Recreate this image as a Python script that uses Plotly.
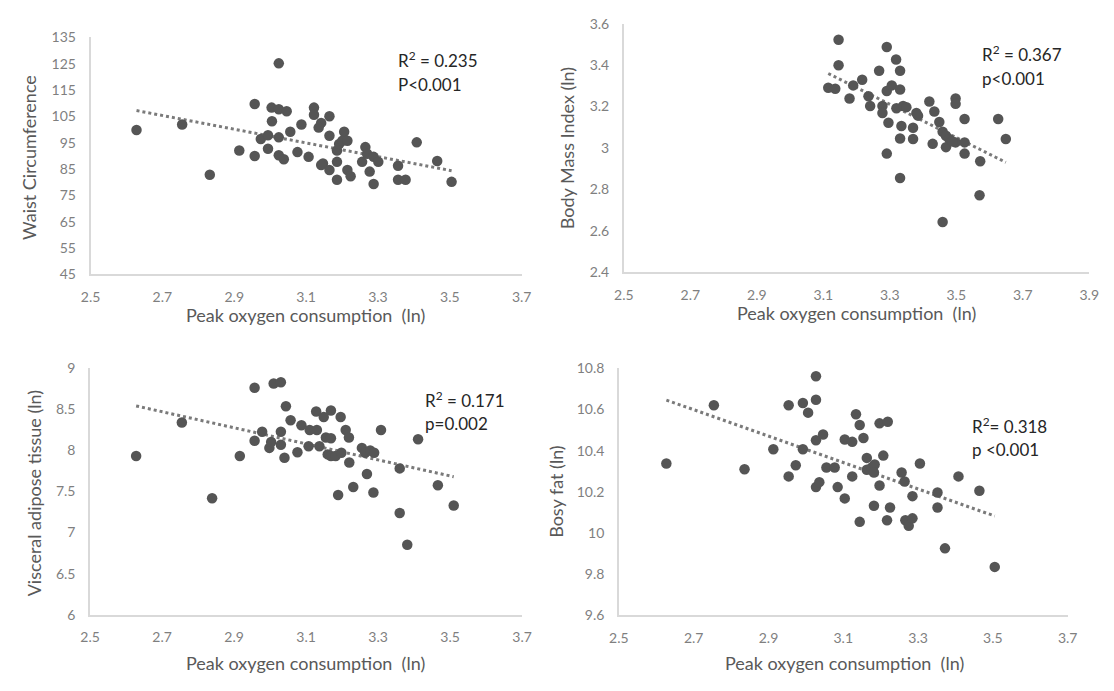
import numpy as np
import plotly.graph_objects as go

W, H = 1114, 691

# ---------------- data ----------------
wc_x = [2.628, 2.755, 2.832, 2.914, 2.957, 2.957, 2.974, 2.994, 2.994, 3.005, 3.004, 3.024, 3.024,
        3.024, 3.024, 3.038, 3.046, 3.056, 3.076, 3.087, 3.107, 3.122, 3.122, 3.142, 3.135, 3.165,
        3.165, 3.147, 3.142, 3.165, 3.186, 3.186, 3.186, 3.192, 3.206, 3.201, 3.215, 3.215, 3.224,
        3.256, 3.265, 3.270, 3.277, 3.288, 3.301, 3.288, 3.356, 3.356, 3.377, 3.408, 3.465, 3.505]
wc_y = [99.8, 101.9, 82.8, 92.0, 109.7, 89.9, 96.4, 97.8, 92.7, 103.1, 108.3, 125.1, 107.7,
        97.0, 90.2, 88.7, 106.9, 99.1, 91.4, 101.9, 89.6, 108.3, 105.6, 102.5, 100.7, 105.0,
        97.6, 87.1, 86.5, 84.6, 80.9, 87.7, 92.0, 94.5, 99.1, 95.7, 95.7, 84.6, 82.2,
        87.7, 93.3, 90.8, 84.0, 89.6, 87.7, 79.3, 86.2, 80.9, 80.9, 95.1, 88.0, 80.1]

bmi_x = [3.115, 3.136, 3.146, 3.146, 3.179, 3.190, 3.217, 3.236, 3.241, 3.268, 3.278, 3.278, 3.291,
         3.291, 3.296, 3.291, 3.306, 3.319, 3.331, 3.331, 3.320, 3.340, 3.350, 3.335, 3.331, 3.331,
         3.370, 3.370, 3.380, 3.385, 3.419, 3.434, 3.449, 3.429, 3.459, 3.469, 3.479, 3.469, 3.459,
         3.498, 3.498, 3.498, 3.525, 3.525, 3.525, 3.572, 3.570, 3.626, 3.649, 3.488]
bmi_y = [3.291, 3.286, 3.522, 3.399, 3.239, 3.302, 3.329, 3.250, 3.203, 3.373, 3.203, 3.169, 3.487,
         3.275, 3.122, 2.973, 3.302, 3.427, 3.373, 3.282, 3.192, 3.203, 3.197, 3.106, 3.046, 2.855,
         3.098, 3.043, 3.169, 3.156, 3.224, 3.176, 3.125, 3.020, 3.078, 3.059, 3.043, 3.004, 2.643,
         3.239, 3.213, 3.027, 3.140, 3.027, 2.973, 2.936, 2.772, 3.140, 3.043, 3.031]

vat_x = [2.628, 2.755, 2.839, 2.916, 2.957, 2.957, 2.978, 2.998, 3.003, 3.010, 3.030, 3.030, 3.030,
         3.040, 3.044, 3.057, 3.076, 3.087, 3.107, 3.110, 3.128, 3.130, 3.137, 3.149, 3.155, 3.160,
         3.169, 3.169, 3.169, 3.182, 3.189, 3.196, 3.198, 3.210, 3.219, 3.220, 3.231, 3.255, 3.264,
         3.269, 3.278, 3.289, 3.287, 3.308, 3.360, 3.360, 3.381, 3.411, 3.466, 3.510]
vat_y = [7.929, 8.336, 7.415, 7.929, 8.759, 8.115, 8.225, 8.028, 8.099, 8.810, 8.826, 8.225, 8.067,
         7.909, 8.534, 8.364, 7.976, 8.304, 8.047, 8.245, 8.470, 8.245, 8.047, 8.403, 8.154, 7.949,
         8.482, 8.146, 7.929, 7.929, 7.455, 8.403, 7.968, 8.245, 8.154, 7.850, 7.553, 8.028, 7.968,
         7.711, 7.996, 7.968, 7.486, 8.245, 7.779, 7.237, 6.850, 8.134, 7.573, 7.328]

bf_x = [2.627, 2.754, 2.836, 2.913, 2.954, 2.954, 2.973, 2.992, 2.992, 3.006, 3.027, 3.027, 3.027,
        3.027, 3.036, 3.046, 3.055, 3.077, 3.085, 3.104, 3.104, 3.124, 3.124, 3.134, 3.144, 3.144,
        3.154, 3.163, 3.163, 3.176, 3.184, 3.182, 3.182, 3.197, 3.197, 3.207, 3.219, 3.217, 3.225,
        3.256, 3.264, 3.266, 3.275, 3.285, 3.285, 3.305, 3.352, 3.352, 3.372, 3.408, 3.464, 3.505]
bf_y = [10.338, 10.621, 10.310, 10.407, 10.621, 10.275, 10.329, 10.632, 10.407, 10.585, 10.762, 10.648, 10.451,
        10.223, 10.247, 10.479, 10.318, 10.318, 10.223, 10.168, 10.454, 10.443, 10.275, 10.577, 10.525, 10.054,
        10.462, 10.365, 10.307, 10.318, 10.333, 10.294, 10.132, 10.231, 10.533, 10.376, 10.541, 10.062, 10.124,
        10.294, 10.250, 10.062, 10.035, 10.179, 10.071, 10.338, 10.197, 10.124, 9.925, 10.275, 10.205, 9.835]

x_ticks_a = [2.5, 2.7, 2.9, 3.1, 3.3, 3.5, 3.7]
x_ticks_b = [2.5, 2.7, 2.9, 3.1, 3.3, 3.5, 3.7, 3.9]
wc_ticks = [45, 55, 65, 75, 85, 95, 105, 115, 125, 135]
bmi_ticks = [2.4, 2.6, 2.8, 3.0, 3.2, 3.4, 3.6]
bmi_ticklabels = ["2.4", "2.6", "2.8", "3", "3.2", "3.4", "3.6"]
vat_ticks = [6, 6.5, 7, 7.5, 8, 8.5, 9]
vat_ticklabels = ["6", "6.5", "7", "7.5", "8", "8.5", "9"]
bf_ticks = [9.6, 9.8, 10.0, 10.2, 10.4, 10.6, 10.8]
bf_ticklabels = ["9.6", "9.8", "10", "10.2", "10.4", "10.6", "10.8"]

y_titles = ["Waist Circumference", "Body Mass Index (ln)", "Visceral adipose tissue (ln)", "Bosy fat (ln)"]
x_title = "Peak oxygen consumption  (ln)"
stats = [("R<sup>2</sup> = 0.235", "P<0.001"), ("R<sup>2</sup> = 0.367", "p<0.001"),
         ("R<sup>2</sup> = 0.171", "p=0.002"), ("R<sup>2</sup>= 0.318", "p <0.001")]

# ---------------- layout (pixel boxes of plot areas) ----------------
boxes = [  # left, right, top, bottom
    (82, 521, 29, 272),
    (625, 1099, 15, 270),
    (81.5, 521.5, 368, 621),
    (620, 1077, 368.5, 621.5),
]
xranges = [[2.5, 3.7], [2.5, 3.9], [2.5, 3.7], [2.5, 3.7]]
yranges = [[45, 135], [2.4, 3.6], [6, 9], [9.6, 10.8]]
xticks = [x_ticks_a, x_ticks_b, x_ticks_a, x_ticks_a]
yticks = [(wc_ticks, [str(v) for v in wc_ticks]), (bmi_ticks, bmi_ticklabels),
          (vat_ticks, vat_ticklabels), (bf_ticks, bf_ticklabels)]
series = [(wc_x, wc_y), (bmi_x, bmi_y), (vat_x, vat_y), (bf_x, bf_y)]

FONT = "Lato, 'Open Sans', sans-serif"
TICK_COLOR = "#7f7f7f"
TITLE_COLOR = "#595959"
DOT_COLOR = "#555555"

fig = go.Figure()
annotations = []

for i, ((l, r, t, b), (xs, ys)) in enumerate(zip(boxes, series)):
    n = i + 1
    xa = "x" if n == 1 else f"x{n}"
    ya = "y" if n == 1 else f"y{n}"
    xs_a = np.array(xs)
    ys_a = np.array(ys)
    slope, icpt = np.polyfit(xs_a, ys_a, 1)
    tx = np.array([xs_a.min(), xs_a.max()])
    ty = slope * tx + icpt
    fig.add_trace(go.Scatter(x=tx, y=ty, mode="lines", xaxis=xa, yaxis=ya,
                             line=dict(color="#7a7a7a", width=3, dash="dot"),
                             showlegend=False, hoverinfo="skip"))
    fig.add_trace(go.Scatter(x=xs, y=ys, mode="markers", xaxis=xa, yaxis=ya,
                             marker=dict(color=DOT_COLOR, size=10.5, line=dict(width=0)),
                             showlegend=False, cliponaxis=False))

    axis_common = dict(showline=True, linecolor="#d9d9d9", linewidth=1.5, showgrid=False,
                       zeroline=False, ticks="",
                       tickfont=dict(family=FONT, size=14, color=TICK_COLOR))
    xkey = "xaxis" if n == 1 else f"xaxis{n}"
    ykey = "yaxis" if n == 1 else f"yaxis{n}"
    fig.layout[xkey] = dict(domain=[l / W, r / W], anchor=ya, range=xranges[i],
                            tickvals=xticks[i], ticktext=[f"{v:g}" for v in xticks[i]],
                            ticklabelstandoff=9, **axis_common)
    fig.layout[ykey] = dict(domain=[1 - b / H, 1 - t / H], anchor=xa, range=yranges[i],
                            tickvals=yticks[i][0], ticktext=yticks[i][1],
                            ticklabelstandoff=10, **axis_common)

# axis titles + stats (positions in pixels)
ytitle_pos = [(20, 152), (568, 143), (24, 497), (556, 495)]
xtitle_pos = [(301, 314), (862, 312), (301, 670), (850, 670)]
stat_pos = [(393, 52, 77), (988, 46, 71), (421, 400, 425), (978, 427, 452)]

for i in range(4):
    yx, yy = ytitle_pos[i]
    annotations.append(dict(text=y_titles[i], x=yx / W, y=1 - yy / H, xref="paper", yref="paper",
                            textangle=-90, showarrow=False, xanchor="center", yanchor="middle",
                            font=dict(family=FONT, size=18, color=TITLE_COLOR)))
    xx, xy = xtitle_pos[i]
    annotations.append(dict(text=x_title, x=xx / W, y=1 - xy / H, xref="paper", yref="paper",
                            showarrow=False, xanchor="center", yanchor="middle",
                            font=dict(family=FONT, size=18, color=TITLE_COLOR)))
    sx, s1, s2 = stat_pos[i]
    annotations.append(dict(text=stats[i][0], x=sx / W, y=1 - s1 / H, xref="paper", yref="paper",
                            showarrow=False, xanchor="left", yanchor="middle",
                            font=dict(family=FONT, size=17, color="#262626")))
    annotations.append(dict(text=stats[i][1], x=sx / W, y=1 - s2 / H, xref="paper", yref="paper",
                            showarrow=False, xanchor="left", yanchor="middle",
                            font=dict(family=FONT, size=17, color="#262626")))

fig.update_layout(width=W, height=H, margin=dict(l=0, r=0, t=0, b=0),
                  paper_bgcolor="white", plot_bgcolor="white",
                  annotations=annotations, showlegend=False)

fig.write_html("out.html")
